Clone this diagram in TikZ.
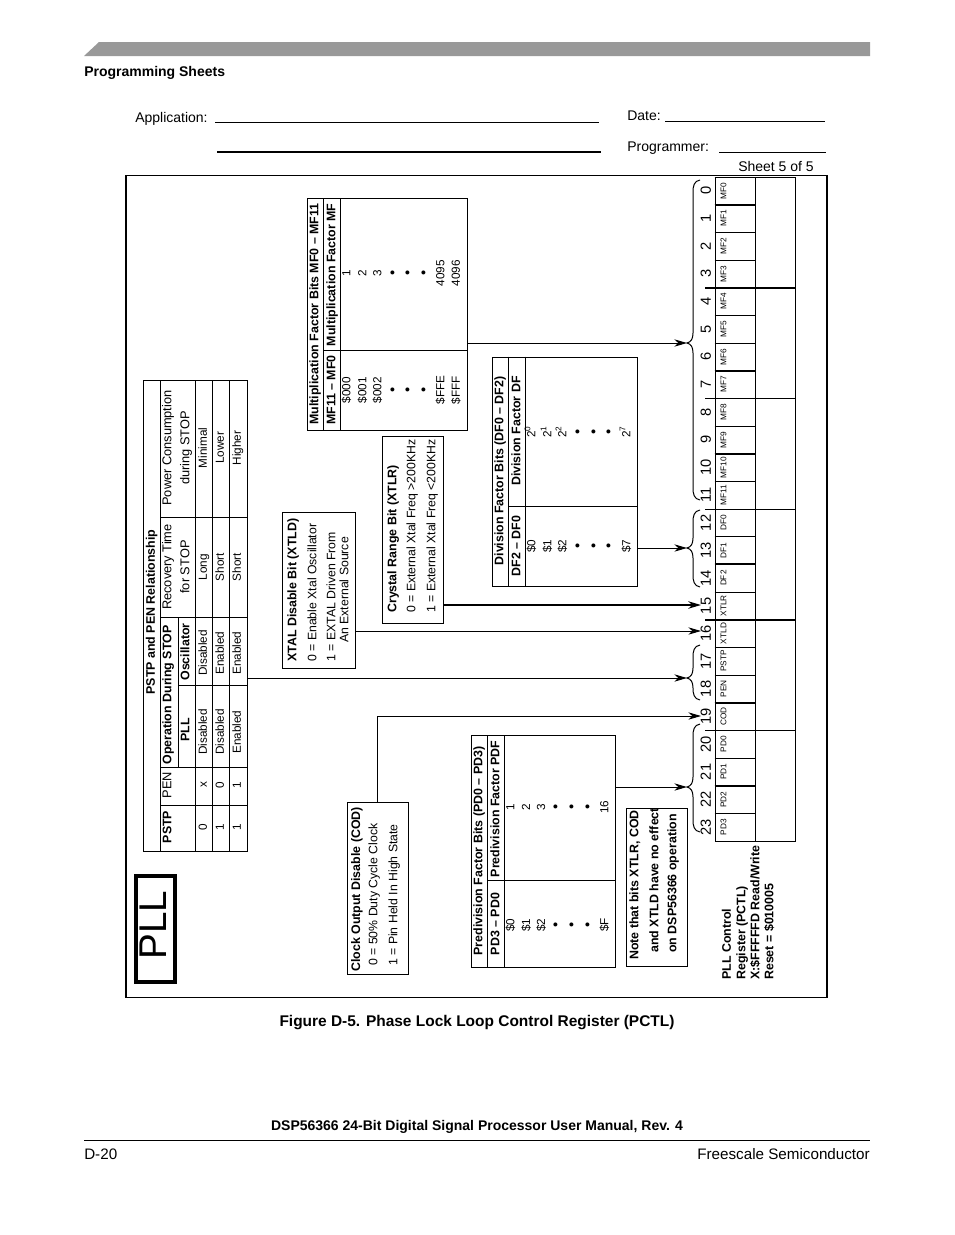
\documentclass[tikz,border=0pt]{standalone}
\usepackage{fontspec}
\setmainfont{Liberation Sans}
\usetikzlibrary{arrows.meta, positioning, calc}

\begin{document}
\begin{tikzpicture}[x=0.75pt, y=-0.75pt, >=Stealth, line cap=butt, line join=miter]
	\tikzset{
		rule/.style={line width=0.75pt},
		heavy/.style={line width=1.5pt},
		link/.style={line width=0.75pt, -{Stealth[length=9.5pt, width=5.5pt, inset=3pt]}},
		linkheavy/.style={link, line width=1.5pt},
		boxsize/.style 2 args={draw, line width=0.75pt, anchor=north west, inner sep=0pt, minimum width=#1*0.75pt, minimum height=#2*0.75pt},
		rot/.style={rotate=90, inner sep=0pt, text height=0.72em, text depth=0.2em},
		small/.style={rot, font=\fontsize{9.2}{10}\selectfont},
		smallb/.style={rot, font=\fontsize{9.3}{10}\selectfont\bfseries},
		datum/.style={rot, font=\fontsize{8.8}{10}\selectfont},
		head/.style={rot, font=\fontsize{9.6}{10}\selectfont},
		cell/.style={rot, font=\fontsize{6.2}{6}\selectfont},
		bitnum/.style={rot, font=\fontsize{11}{12}\selectfont},
		page/.style={inner sep=0pt, font=\fontsize{10.5}{12}\selectfont, text height=0.72em, text depth=0.2em},
		pageb/.style={page, font=\fontsize{10.5}{12}\selectfont\bfseries},
		pagebig/.style={page, font=\fontsize{11.4}{12}\selectfont},
		pagebigb/.style={page, font=\fontsize{11.6}{12}\selectfont\bfseries}
	}
	
	\newcommand{\regbrace}[4]{
		\coordinate (#1) at (687,#3);
		\draw[rule] (700,#2) .. controls (694,#2+1) and (693,#2+6) .. (693,#2+12) -- (693,#3-10) .. controls (693,#3-4) and (691,#3-1) .. (#1) .. controls (691,#3+1) and (693,#3+4) .. (693,#3+10) -- (693,#4-12) .. controls (693,#4-6) and (694,#4-1) .. (700,#4);
	}
	\newcommand{\rowdot}{\fontsize{11}{11}\selectfont\textbullet}
	
	\useasboundingbox (0,0) rectangle (954,1235);
	
	% page furniture
	\fill[gray!80] (84,56) -- (99,42) -- (870,42) -- (870,56) -- cycle;
	\node[pageb, anchor=west] (sheets) at (84,73) {Programming Sheets};
	\node[page, anchor=west] (application) at (135,119) {Application:};
	\draw[rule] (215,122) -- (599,122);
	\draw[heavy] (217,152) -- (601,152);
	\node[page, anchor=west] (date) at (627,117) {Date:};
	\draw[rule] (665,121) -- (825,121);
	\node[page, anchor=west] (programmer) at (627,148) {Programmer:};
	\draw[rule] (719,152) -- (826,152);
	\node[page, anchor=west] (sheetno) at (738,168) {Sheet 5 of 5};
	\node[pagebigb] (caption) at (477,1023) {Figure D-5. Phase Lock Loop Control Register (PCTL)};
	\node[pageb] (manual) at (477,1127) {DSP56366 24-Bit Digital Signal Processor User Manual, Rev. 4};
	\draw[rule] (84,1140) -- (870,1140);
	\node[pagebig, anchor=west] (pageno) at (84,1156) {D-20};
	\node[pagebig, anchor=east] (maker) at (870,1156) {Freescale Semiconductor};
	
	\node[boxsize={701}{822}, line width=1.2pt] (frame) at (125,174.5) {};
	
	% PLL tag
	\node[boxsize={39.5}{106.5}, line width=3pt] (tag) at (133.5,873.5) {};
	\node[rotate=90, inner sep=0pt, text height=20.5pt, text depth=0pt, font=\fontsize{29}{30}\selectfont] (tagtext) at (152.7,925) {PLL};
	
	% PSTP and PEN table
	\node[boxsize={103.5}{471}] (stopbox) at (143.3,380) {};
	\draw[rule] (160,380) -- (160,851);
	\draw[rule] (195,380) -- (195,851);
	\draw[rule] (212,380) -- (212,851);
	\draw[rule] (229,380) -- (229,851);
	\draw[rule] (160,517) -- (246.7,517);
	\draw[rule] (160,617) -- (246.7,617);
	\draw[rule] (178,685) -- (246.7,685);
	\draw[rule] (160,767) -- (246.7,767);
	\draw[rule] (160,805) -- (246.7,805);
	\draw[rule] (178,617) -- (178,767);
	\node[smallb] (stoptitle) at (151.5,612) {PSTP and PEN Relationship};
	\node[smallb] (hpstp) at (168,827) {PSTP};
	\node[head] (hpen) at (168,785) {PEN};
	\node[smallb] (hop) at (168,695) {Operation During STOP};
	\node[smallb] (hpll) at (186,730) {PLL};
	\node[smallb] (hosc) at (186,652) {Oscillator};
	\node[head] (hrec) at (168,567) {Recovery Time};
	\node[head] (hrecb) at (186,567) {for STOP};
	\node[head] (hpow) at (168,448) {Power Consumption};
	\node[head] (hpowb) at (186,448) {during STOP};
	\foreach \rowx/\a/\b/\c/\d/\e/\f [count=\n] in {203.5/0/x/Disabled/Disabled/Long/Minimal, 220.5/1/0/Disabled/Enabled/Short/Lower, 237.5/1/1/Enabled/Enabled/Short/Higher}{
		\node[datum] (pstp\n) at (\rowx,827) {\a};
		\node[datum] (pen\n) at (\rowx,785) {\b};
		\node[datum] (pll\n) at (\rowx,732) {\c};
		\node[datum] (osc\n) at (\rowx,653) {\d};
		\node[datum] (rec\n) at (\rowx,567) {\e};
		\node[datum] (pow\n) at (\rowx,448) {\f};
	}
	
	% multiplication factor table
	\node[boxsize={160}{232}] (mfbox) at (307,198) {};
	\draw[rule] (323,198) -- (323,430);
	\draw[rule] (340.7,198) -- (340.7,430);
	\draw[rule] (323,350) -- (467,350);
	\node[smallb] (mftitle) at (315,314) {Multiplication Factor Bits MF0 -- MF11};
	\node[smallb] (mfleft) at (332,390) {MF11 -- MF0};
	\node[smallb] (mfright) at (332,275) {Multiplication Factor MF};
	\foreach \rowx/\a/\b [count=\n] in {347/\$000/1, 363/\$001/2, 378/\$002/3, 394/\rowdot/\rowdot, 409/\rowdot/\rowdot, 425/\rowdot/\rowdot, 441/\$FFE/4095, 456.5/\$FFF/4096}{
		\node[datum] (mfa\n) at (\rowx,390) {\a};
		\node[datum] (mfb\n) at (\rowx,273) {\b};
	}
	
	% division factor table
	\node[boxsize={145}{229.5}] (dfbox) at (491.7,356.7) {};
	\draw[rule] (508.7,356.7) -- (508.7,586);
	\draw[rule] (525.3,356.7) -- (525.3,586);
	\draw[rule] (508.7,506.7) -- (636.7,506.7);
	\node[smallb] (dftitle) at (500,471) {Division Factor Bits (DF0 -- DF2)};
	\node[smallb] (dfleft) at (517,546) {DF2 -- DF0};
	\node[smallb] (dfright) at (517,431) {Division Factor DF};
	\foreach \rowx/\a/\b [count=\n] in {532/\$0/2\textsuperscript{0}, 548/\$1/2\textsuperscript{1}, 563/\$2/2\textsuperscript{2}, 579/\rowdot/\rowdot, 595/\rowdot/\rowdot, 610/\rowdot/\rowdot, 627/\$7/2\textsuperscript{7}}{
		\node[datum] (dfa\n) at (\rowx,546) {\a};
		\node[datum] (dfb\n) at (\rowx,432) {\b};
	}
	
	% predivision factor table
	\node[boxsize={144.6}{231.7}] (pdbox) at (470.7,735) {};
	\draw[rule] (487.3,735) -- (487.3,966.7);
	\draw[rule] (504.3,735) -- (504.3,966.7);
	\draw[rule] (487.3,880.7) -- (615.3,880.7);
	\node[smallb] (pdtitle) at (479,851) {Predivision Factor Bits (PD0 -- PD3)};
	\node[smallb] (pdleft) at (496,924) {PD3 -- PD0};
	\node[smallb] (pdright) at (496,809) {Predivision Factor PDF};
	\foreach \rowx/\a/\b [count=\n] in {511/\$0/1, 526.7/\$1/2, 541.7/\$2/3, 557/\rowdot/\rowdot, 573/\rowdot/\rowdot, 589/\rowdot/\rowdot, 605/\$F/16}{
		\node[datum] (pda\n) at (\rowx,925) {\a};
		\node[datum] (pdb\n) at (\rowx,807) {\b};
	}
	
	% bit description boxes
	\node[boxsize={73}{156}] (xtldbox) at (282,512) {};
	\node[smallb, anchor=west] (xtldtitle) at (293,662) {XTAL Disable Bit (XTLD)};
	\node[small, anchor=west] (xtlda) at (313,662) {0 = Enable Xtal Oscillator};
	\node[small, anchor=west] (xtldb) at (332,662) {1 = EXTAL Driven From};
	\node[small, anchor=west] (xtldc) at (345,643) {An External Source};
	
	\node[boxsize={61}{187}] (xtlrbox) at (382,436) {};
	\node[smallb, anchor=west] (xtlrtitle) at (393,613) {Crystal Range Bit (XTLR)};
	\node[small, anchor=west] (xtlra) at (412,613) {0 = External Xtal Freq >200KHz};
	\node[small, anchor=west] (xtlrb) at (432,613) {1 = External Xtal Freq <200KHz};
	
	\node[boxsize={61}{171.7}] (codbox) at (347.3,802.3) {};
	\node[smallb, anchor=west] (codtitle) at (356.7,972) {Clock Output Disable (COD)};
	\node[small, anchor=west] (coda) at (374,966) {0 = 50\% Duty Cycle Clock};
	\node[small, anchor=west] (codb) at (394,966) {1 = Pin Held In High State};
	
	\node[boxsize={60.7}{158}] (notebox) at (626,808) {};
	\node[smallb, anchor=west] (notea) at (635,960) {Note that bits XTLR, COD};
	\node[smallb, anchor=west] (noteb) at (655,953) {and XTLD have no effect};
	\node[smallb, anchor=west] (notec) at (673,953) {on DSP56366 operation};
	
	% register
	\node[boxsize={79.8}{664}] (regbox) at (714.7,177) {};
	\draw[rule] (755,177) -- (755,841);
	\foreach \bitname [count=\n from 0] in {MF0,MF1,MF2,MF3,MF4,MF5,MF6,MF7,MF8,MF9,MF10,MF11,DF0,DF1,DF2,XTLR,XTLD,PSTP,PEN,COD,PD0,PD1,PD2,PD3}{
		\node[bitnum] (num\n) at (707.5,{177+27.667*(\n+0.5)}) {\n};
		\node[cell] (bit\n) at (723,{177+27.667*(\n+0.5)}) {\bitname};
		\draw[rule] (714.7,{177+27.667*\n}) -- (755,{177+27.667*\n});
	}
	\foreach \n in {1,7,10,14,19,22}{
		\draw[heavy] (714.7,{177+27.667*\n}) -- (755,{177+27.667*\n});
	}
	\foreach \n in {4,16}{
		\draw[heavy] (705,{177+27.667*\n}) -- (794.5,{177+27.667*\n});
	}
	\foreach \n in {8,12,20}{
		\draw[rule] (705,{177+27.667*\n}) -- (794.5,{177+27.667*\n});
	}
	\node[smallb, anchor=west] (regname) at (727.5,980) {PLL Control};
	\node[smallb, anchor=west] (regnameb) at (742,980) {Register (PCTL)};
	\node[smallb, anchor=west] (regaddr) at (756,980) {X:\$FFFFFD Read/Write};
	\node[smallb, anchor=west] (regreset) at (770,980) {Reset = \$010005};
	
	% braces and connectors
	\regbrace{mfbrace}{180}{343}{500}
	\regbrace{dfbrace}{510}{548}{587}
	\regbrace{stopbrace}{645}{678}{700}
	\regbrace{pdbrace}{724}{787}{832}
	\coordinate (xtlrin) at (701,605);
	\coordinate (xtldin) at (701,631);
	\coordinate (codin) at (701,716);
	
	\draw[link] (mfbox.east |- mfbrace) -- (mfbrace);
	\draw[link] (dfbox.east |- dfbrace) -- (dfbrace);
	\draw[link] (stopbox.east |- stopbrace) -- (stopbrace);
	\draw[link] (pdbox.east |- pdbrace) -- (pdbrace);
	\draw[linkheavy] (xtlrbox.east |- xtlrin) -- (xtlrin);
	\draw[link] (xtldbox.east |- xtldin) -- (xtldin);
	\draw[link] (codbox.north -| 377,0) |- (codin);
\end{tikzpicture}
\end{document}
